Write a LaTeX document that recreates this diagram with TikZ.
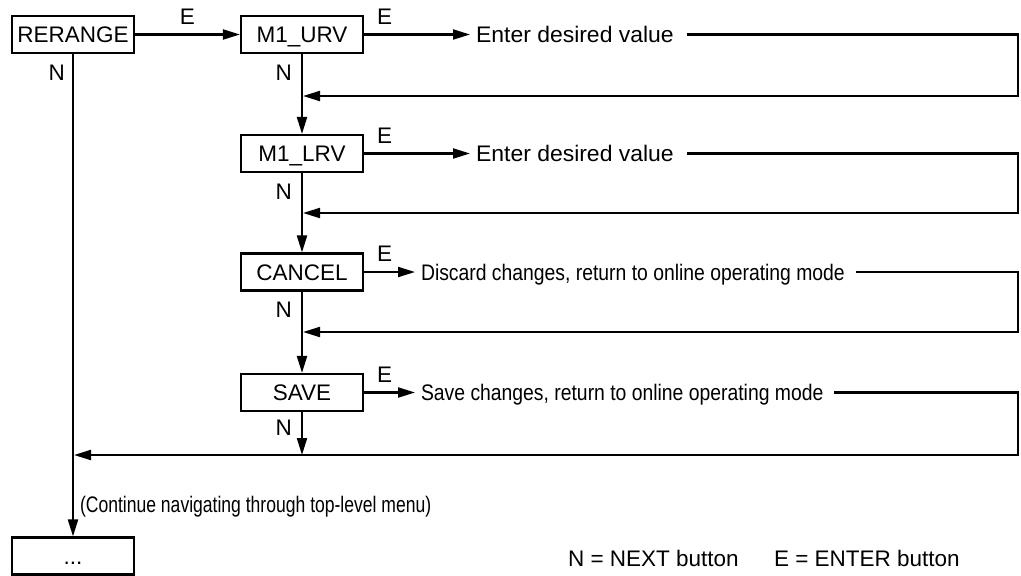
\documentclass[tikz,border=0pt]{standalone}
\usepackage{fontspec}
\setmainfont{Liberation Sans}
\usepackage{graphicx}
\usetikzlibrary{arrows.meta, positioning}

\begin{document}
\begin{tikzpicture}[
    x=1pt, y=-1pt,
    >={Triangle[length=17pt, width=10pt]},
    line width=2.1pt,
    font=\fontsize{22.5}{26}\selectfont,
    menubox/.style={draw, minimum width=122pt, minimum height=37pt,
        inner sep=0pt, text height=16pt, text depth=0pt},
    msg/.style={anchor=west, inner xsep=5pt, inner ysep=0pt,
        text height=16pt, text depth=0pt},
    key/.style={inner sep=0pt, text height=16pt, text depth=0pt},
    elabel/.style={key, anchor=south west, xshift=12pt, yshift=9pt},
    nlabel/.style={key, anchor=north east, xshift=-9pt, yshift=-9pt},
    flow/.style={->},
]

%--- Coordinates ---
\def\colA{73}        % left column (RERANGE, ...)
\def\colB{302}       % right column (M1_URV ... SAVE)
\def\rightX{1018}    % x of the return loops
\def\rowI{34.5}
\def\rowII{153.5}
\def\rowIII{272}
\def\rowIV{392.5}
\def\rowEnd{556}
\def\retI{96}        % y of return lines
\def\retII{213}
\def\retIII{332}
\def\retIV{455}

\useasboundingbox (0,0) rectangle (1021,576);

%============================================================
% Menu boxes
%============================================================
\node[menubox] (rerange) at (\colA, \rowI) {RERANGE};
\node[menubox] (urv)     at (\colB, \rowI) {M1\_URV};
\node[menubox] (lrv)     at (\colB, \rowII) {M1\_LRV};
\node[menubox] (cancel)  at (\colB, \rowIII) {CANCEL};
\node[menubox] (save)    at (\colB, \rowIV) {SAVE};
\node[menubox] (more)    at (\colA, \rowEnd) {...};

%============================================================
% Actions
%============================================================
\node[msg] (enterI)  at (470, \rowI)   {\scalebox{1.02}[1]{Enter desired value}};
\node[msg] (enterII) at (470, \rowII)  {\scalebox{1.02}[1]{Enter desired value}};
\node[msg] (discard) at (415, \rowIII) {\scalebox{0.86}[1]{Discard changes, return to online operating mode}};
\node[msg] (keep)    at (415, \rowIV)  {\scalebox{0.86}[1]{Save changes, return to online operating mode}};

\coordinate (joinI)   at (\colB, \retI);
\coordinate (joinII)  at (\colB, \retII);
\coordinate (joinIII) at (\colB, \retIII);
\coordinate (joinIV)  at (\colA, \retIV);

%============================================================
% ENTER arrows
%============================================================
\draw[flow] (rerange) -- node[key, above=9pt] {E} (urv);
\draw[flow] (urv.east)    -- node[elabel, pos=0] {E} (enterI.west);
\draw[flow] (lrv.east)    -- node[elabel, pos=0] {E} (enterII.west);
\draw[flow] (cancel.east) -- node[elabel, pos=0] {E} (discard.west);
\draw[flow] (save.east)   -- node[elabel, pos=0] {E} (keep.west);

%============================================================
% NEXT arrows
%============================================================
\draw[flow] (urv)    -- node[nlabel, pos=0] {N} (lrv);
\draw[flow] (lrv)    -- node[nlabel, pos=0] {N} (cancel);
\draw[flow] (cancel) -- node[nlabel, pos=0] {N} (save);
\draw[flow] (save)   -- node[nlabel, pos=0, yshift=3pt] {N} (save |- joinIV);
\draw[flow] (rerange) -- node[nlabel, pos=0, xshift=2pt] {N} (more);

%============================================================
% Return loops
%============================================================
\draw[flow, shorten >=1pt] ([xshift=7pt]enterI.east)  -- (\rightX, \rowI)   |- (joinI);
\draw[flow, shorten >=1pt] ([xshift=7pt]enterII.east) -- (\rightX, \rowII)  |- (joinII);
\draw[flow, shorten >=1pt] ([xshift=5pt]discard.east) -- (\rightX, \rowIII) |- (joinIII);
\draw[flow, shorten >=1pt] ([xshift=5pt]keep.east)    -- (\rightX, \rowIV)  |- (joinIV);

%============================================================
% Notes
%============================================================
\node[key, anchor=west] (cont) at (79, 504.5)
    {\scalebox{0.78}[1]{(Continue navigating through top-level menu)}};
\node[key, anchor=west] (legN) at (567, 558.5) {N = NEXT button};
\node[key, anchor=west] (legE) at (773, 558.5) {E = ENTER button};

\end{tikzpicture}
\end{document}
